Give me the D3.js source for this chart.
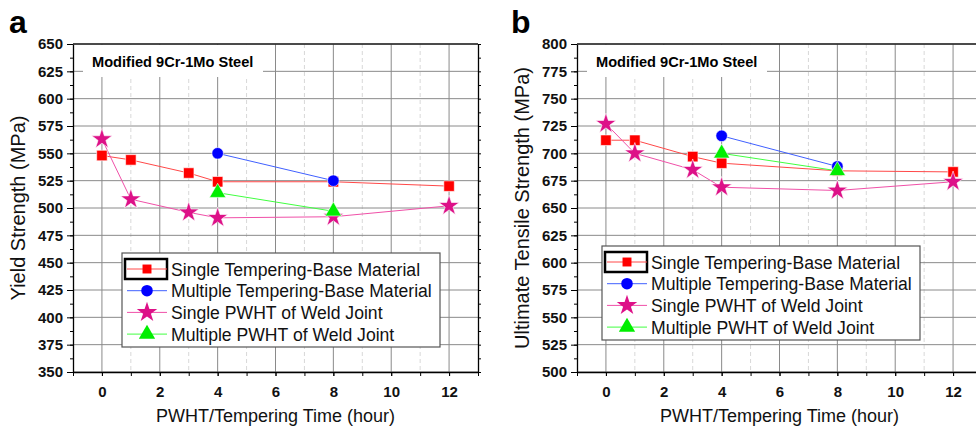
<!DOCTYPE html>
<html>
<head>
<meta charset="utf-8">
<script src="https://cdn.jsdelivr.net/npm/d3@7"></script>
<style>
  body { margin: 0; background: #fff; }
  svg { display: block; font-family: "Liberation Sans", Arial, sans-serif; }
</style>
</head>
<body>
<div id="chart"></div>
<script>
/* CONSTANTS AND GLOBALS */
const width = 976;
const height = 427;

/* DATA */
const seriesNames = [
  "Single Tempering-Base Material",
  "Multiple Tempering-Base Material",
  "Single PWHT of Weld Joint",
  "Multiple PWHT of Weld Joint"
];
const hoursSingle = [0, 1, 3, 4, 8, 12];
const hoursMultiple = [4, 8];

// panel a : yield strength (MPa)
const yieldSingleBase = [548, 544, 532, 524, 524, 520];
const yieldMultipleBase = [550, 525];
const yieldSingleWeld = [563, 508, 496, 491, 492, 502];
const yieldMultipleWeld = [514, 497];

// panel b : ultimate tensile strength (MPa)
const utsSingleBase = [712, 712, 697, 691, 684, 683];
const utsMultipleBase = [716, 688];
const utsSingleWeld = [727, 700, 685, 669, 666, 674];
const utsMultipleWeld = [700, 684];

const xTicks = [0, 2, 4, 6, 8, 10, 12];
const yTicksA = d3.range(350, 651, 25);
const yTicksB = d3.range(500, 801, 25);

const lineColors = ["#ff4848", "#4060ff", "#f050a8", "#40ff40"];
const markColors = ["#ff0000", "#0000ff", "#dd1188", "#00ee00"];
const symbols = [d3.symbolSquare, d3.symbolCircle, d3.symbolStar, d3.symbolTriangle];
const symSizes = [110, 105, 130, 115];

const svg = d3.select("#chart")
  .append("svg")
  .attr("width", width)
  .attr("height", height);

function pair(xs, ys) { return xs.map((x, i) => ({ x: x, y: ys[i] })) }

function drawPanel(cfg) {
  const left = cfg.left, top = 44, plotW = 405, plotH = 328;
  const g = svg.append("g").attr("transform", `translate(${left},${top})`);

  const xScale = d3.scaleLinear().domain([-1, 13]).range([0, plotW]);
  const yScale = d3.scaleLinear().domain(cfg.yDomain).range([plotH, 0]);

  // vertical grid: minor dashed at odd hours, major solid at even
  g.append("g")
    .selectAll("line")
    .data(d3.range(0, 13))
    .join("line")
    .attr("x1", d => xScale(d)).attr("x2", d => xScale(d))
    .attr("y1", 0).attr("y2", plotH)
    .attr("stroke", d => d % 2 === 0 ? "#8a8a8a" : "#d8d8d8")
    .attr("stroke-width", 1)
    .attr("stroke-dasharray", d => d % 2 === 0 ? null : "4,3");

  // horizontal grid
  g.append("g")
    .selectAll("line")
    .data(cfg.yTicks)
    .join("line")
    .attr("x1", 0).attr("x2", plotW)
    .attr("y1", d => yScale(d)).attr("y2", d => yScale(d))
    .attr("stroke", "#8a8a8a")
    .attr("stroke-width", 1);

  // title box covering the grid
  g.append("rect")
    .attr("x", 10).attr("y", 1)
    .attr("width", 180).attr("height", 32)
    .attr("fill", "#fff");
  g.append("text")
    .attr("x", 19).attr("y", 23)
    .attr("font-size", 14.6)
    .attr("font-weight", "bold")
    .text("Modified 9Cr-1Mo Steel");

  // axes
  const yMinor = d3.range(cfg.yDomain[0], cfg.yDomain[1] + 1, 12.5);
  g.append("g")
    .call(d3.axisLeft(yScale).tickValues(yMinor).tickSize(3).tickFormat(""))
    .call(a => a.select(".domain").remove());
  g.append("g")
    .call(d3.axisLeft(yScale).tickValues(cfg.yTicks).tickSize(6).tickPadding(4).tickSizeOuter(0))
    .call(a => a.selectAll("text").attr("font-size", 15).attr("font-weight", "bold")
      .attr("fill", "#111").attr("font-family", "Liberation Sans, Arial, sans-serif"))
    .call(a => a.select(".domain").attr("stroke-width", 1.3));

  g.append("g")
    .attr("transform", `translate(${plotW},0)`)
    .call(d3.axisRight(yScale).tickValues(yMinor).tickSize(3).tickFormat("").tickSizeOuter(0))
    .call(a => a.select(".domain").attr("stroke-width", 1.3));

  g.append("g")
    .attr("transform", `translate(0,${plotH})`)
    .call(d3.axisBottom(xScale).tickValues(d3.range(-1, 14)).tickSize(4).tickFormat("").tickSizeOuter(0))
    .call(a => a.select(".domain").attr("stroke-width", 1.3));
  g.append("g")
    .attr("transform", `translate(0,${plotH})`)
    .call(d3.axisBottom(xScale).tickValues(xTicks).tickSize(4).tickPadding(10).tickSizeOuter(0))
    .call(a => a.selectAll("text").attr("font-size", 15).attr("font-weight", "bold")
      .attr("fill", "#111").attr("font-family", "Liberation Sans, Arial, sans-serif"))
    .call(a => a.select(".domain").remove());

  g.append("line")
    .attr("x1", 0).attr("x2", plotW)
    .attr("y1", 0).attr("y2", 0)
    .attr("stroke", "#222").attr("stroke-width", 1.3);

  // series lines and markers
  const line = d3.line().x(d => xScale(d.x)).y(d => yScale(d.y));
  cfg.series.forEach((s, i) => {
    g.append("path")
      .datum(s)
      .attr("d", line)
      .attr("fill", "none")
      .attr("stroke", lineColors[i])
      .attr("stroke-width", 1);
  });
  cfg.series.forEach((s, i) => {
    g.append("g")
      .selectAll("path")
      .data(s)
      .join("path")
      .attr("transform", d => `translate(${xScale(d.x)},${yScale(d.y)})`)
      .attr("d", d3.symbol().type(symbols[i]).size(symSizes[i]))
      .attr("fill", markColors[i])
      .attr("stroke", "#fff")
      .attr("stroke-width", 0.6);
  });

  // legend
  const lg = g.append("g").attr("transform", `translate(${cfg.legend[0]},${cfg.legend[1]})`);
  lg.append("rect")
    .attr("width", 318).attr("height", 94)
    .attr("fill", "#fff").attr("stroke", "#555").attr("stroke-width", 1.2);
  seriesNames.forEach((name, i) => {
    const ry = 16 + i * 21.7;
    if (i === 0) {
      lg.append("rect")
        .attr("x", 3).attr("y", ry - 10)
        .attr("width", 42).attr("height", 20)
        .attr("fill", "none").attr("stroke", "#000").attr("stroke-width", 2.5);
    }
    lg.append("line")
      .attr("x1", 5).attr("x2", 45).attr("y1", ry).attr("y2", ry)
      .attr("stroke", lineColors[i]).attr("stroke-width", 1);
    lg.append("path")
      .attr("transform", `translate(25,${ry})`)
      .attr("d", d3.symbol().type(symbols[i]).size(i === 0 ? 80 : symSizes[i]))
      .attr("fill", markColors[i]);
    lg.append("text")
      .attr("x", 49).attr("y", ry + 6.5)
      .attr("font-size", 17.6)
      .attr("fill", "#111")
      .text(name);
  });

  // axis titles
  svg.append("text")
    .attr("transform", `translate(${cfg.yTitleX},${top + plotH / 2}) rotate(-90)`)
    .attr("text-anchor", "middle")
    .attr("font-size", 20)
    .attr("fill", "#111")
    .text(cfg.yTitle);
  svg.append("text")
    .attr("x", left + xScale(6)).attr("y", 422)
    .attr("text-anchor", "middle")
    .attr("font-size", 18)
    .attr("fill", "#111")
    .text("PWHT/Tempering Time (hour)");
  svg.append("text")
    .attr("x", cfg.letterX).attr("y", 33)
    .attr("font-size", 32)
    .attr("font-weight", "bold")
    .text(cfg.letter);
}

drawPanel({
  left: 73,
  yDomain: [350, 650],
  yTicks: yTicksA,
  yTitle: "Yield Strength (MPa)",
  yTitleX: 25,
  letter: "a",
  letterX: 9,
  legend: [49, 209],
  series: [
    pair(hoursSingle, yieldSingleBase),
    pair(hoursMultiple, yieldMultipleBase),
    pair(hoursSingle, yieldSingleWeld),
    pair(hoursMultiple, yieldMultipleWeld)
  ]
});

drawPanel({
  left: 577,
  yDomain: [500, 800],
  yTicks: yTicksB,
  yTitle: "Ultimate Tensile Strength (MPa)",
  yTitleX: 529,
  letter: "b",
  letterX: 511,
  legend: [25, 202],
  series: [
    pair(hoursSingle, utsSingleBase),
    pair(hoursMultiple, utsMultipleBase),
    pair(hoursSingle, utsSingleWeld),
    pair(hoursMultiple, utsMultipleWeld)
  ]
});
</script>
</body>
</html>
